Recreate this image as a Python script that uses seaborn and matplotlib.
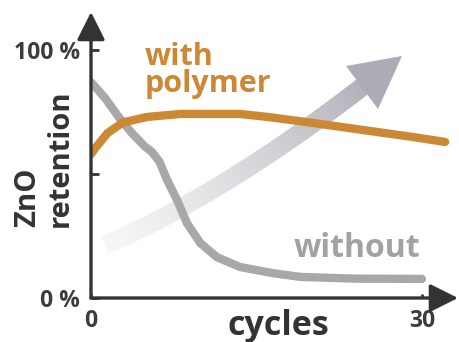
import numpy as np
import pandas as pd
import matplotlib
matplotlib.use("Agg")
import matplotlib.pyplot as plt
import seaborn as sns
from matplotlib.collections import LineCollection
from matplotlib.patches import Polygon

# ---- data ----
cycles_with = [0, 0.4, 1.5, 2.9, 5.1, 8.1, 13.5, 16.0, 20.1, 24.7, 29.2, 32.1]
retention_with = [58, 60.5, 66.5, 70.8, 73, 74.2, 74.2, 73, 70.6, 67.7, 64.9, 62.9]

cycles_without = [0, 1.3, 2.5, 3.7, 4.9, 5.5, 6.2, 6.9, 7.8, 8.7, 9.9, 11.4, 13.5, 16.5, 19, 24, 30]
retention_without = [87, 80.5, 73, 66.5, 61, 59, 55, 47.6, 39.5, 30.2, 22.2, 16.5, 12.5, 10, 8.5, 7.8, 7.7]

y_ticks = [0, 50, 100]
y_ticklabels = ["0 %", "", "100 %"]
x_ticks = [0, 30]
x_ticklabels = ["0", "30"]

series_labels = ["with\npolymer", "without"]
x_label = "cycles"
y_label_lines = ["ZnO", "retention"]

# ---- style ----
sns.set_theme(style="white")
FONT = ["Open Sans", "DejaVu Sans"]
plt.rcParams["font.family"] = FONT
plt.rcParams["font.weight"] = "bold"

W, H = 460, 342
fig = plt.figure(figsize=(W / 100, H / 100), dpi=100)
ax = fig.add_axes([91 / W, (H - 298) / H, (458 - 91) / W, (298 - 12) / H])
ax.set_xlim(0, 33.27)
ax.set_ylim(0, 115.3)

ORANGE = "#cc8833"
GRAY = "#a8a8a8"
DARK = "#333333"

df_with = pd.DataFrame({"cycles": cycles_with, "retention": retention_with})
df_without = pd.DataFrame({"cycles": cycles_without, "retention": retention_without})

# ---- decorative gradient arrow (background) ----
def px2fig(px, py):
    return px / W, 1 - py / H

P0 = np.array([105, 245.0]); C1 = np.array([200, 205.0])
C2 = np.array([300, 135.0]); P3 = np.array([362, 87.0])
t = np.linspace(0, 1, 120)[:, None]
bez = ((1 - t) ** 3) * P0 + 3 * ((1 - t) ** 2) * t * C1 + 3 * (1 - t) * t ** 2 * C2 + t ** 3 * P3
pts = np.array([px2fig(x, y) for x, y in bez])
segs = np.stack([pts[:-1], pts[1:]], axis=1)
light = np.array([0.965, 0.965, 0.965]); darkc = np.array([0.68, 0.67, 0.71])
tt = np.linspace(0, 1, len(segs))[:, None] ** 1.25
cols = light + (darkc - light) * tt
lc = LineCollection(segs, colors=cols, linewidths=13.5, capstyle="butt",
                    transform=fig.transFigure, zorder=1)
ax.add_collection(lc)
head = Polygon([px2fig(402, 56), px2fig(346, 66), px2fig(378, 109)], closed=True,
               facecolor=tuple(darkc), edgecolor="none", transform=fig.transFigure, zorder=1)
ax.add_patch(head)

# ---- data lines ----
sns.lineplot(data=df_with, x="cycles", y="retention", ax=ax, color=ORANGE, lw=6,
             solid_capstyle="round", solid_joinstyle="round", zorder=3, sort=False)
sns.lineplot(data=df_without, x="cycles", y="retention", ax=ax, color=GRAY, lw=6,
             solid_capstyle="round", solid_joinstyle="round", zorder=2, sort=False)

# ---- axes with arrow heads ----
for s in ax.spines.values():
    s.set_visible(False)
arrow_kw = dict(arrowstyle="-|>,head_length=0.86,head_width=0.43", lw=2.4,
                color=DARK, mutation_scale=20, shrinkA=0, shrinkB=0)
ax.annotate("", xy=(0, 1), xytext=(0, 0), xycoords="axes fraction",
            arrowprops=arrow_kw, zorder=5)
ax.annotate("", xy=(1, 0), xytext=(0, 0), xycoords="axes fraction",
            arrowprops=arrow_kw, zorder=5)

ax.set_yticks(y_ticks)
ax.set_yticklabels(y_ticklabels)
ax.set_xticks(x_ticks)
ax.set_xticklabels(x_ticklabels)
ax.tick_params(axis="y", direction="in", length=6, width=2, color=DARK, pad=8,
               labelsize=16.5, labelcolor="#3c3c3c", left=True)
ax.tick_params(axis="x", direction="in", length=3, width=2, color=DARK, pad=8,
               labelsize=16.5, labelcolor="#3c3c3c", bottom=True)
for lab in ax.get_xticklabels() + ax.get_yticklabels():
    lab.set_fontweight("bold")
ax.set_xlabel("")
ax.set_ylabel("")

# ---- annotations ----
ax.text(4.9, 94, series_labels[0].split("\n")[0], color=ORANGE, fontsize=22,
        fontweight="bold", va="baseline", ha="left", zorder=4)
ax.text(4.9, 83.1, series_labels[0].split("\n")[1], color=ORANGE, fontsize=22,
        fontweight="bold", va="baseline", ha="left", zorder=4)
ax.text(18.4, 16.5, series_labels[1], color="#a2a2a2", fontsize=23,
        fontweight="bold", va="baseline", ha="left", zorder=4)
ax.text(12.4, -14.9, x_label, color=DARK, fontsize=24.5, fontweight="bold",
        va="baseline", ha="left", clip_on=False)
fig.text(35 / W, 1 - 227 / H, y_label_lines[0], rotation=90, rotation_mode="anchor",
         ha="left", va="baseline", fontsize=21, fontweight="bold", color=DARK)
fig.text(68 / W, 1 - 227 / H, y_label_lines[1], rotation=90, rotation_mode="anchor",
         ha="left", va="baseline", fontsize=21, fontweight="bold", color=DARK)

fig.savefig("out.png", dpi=100)
